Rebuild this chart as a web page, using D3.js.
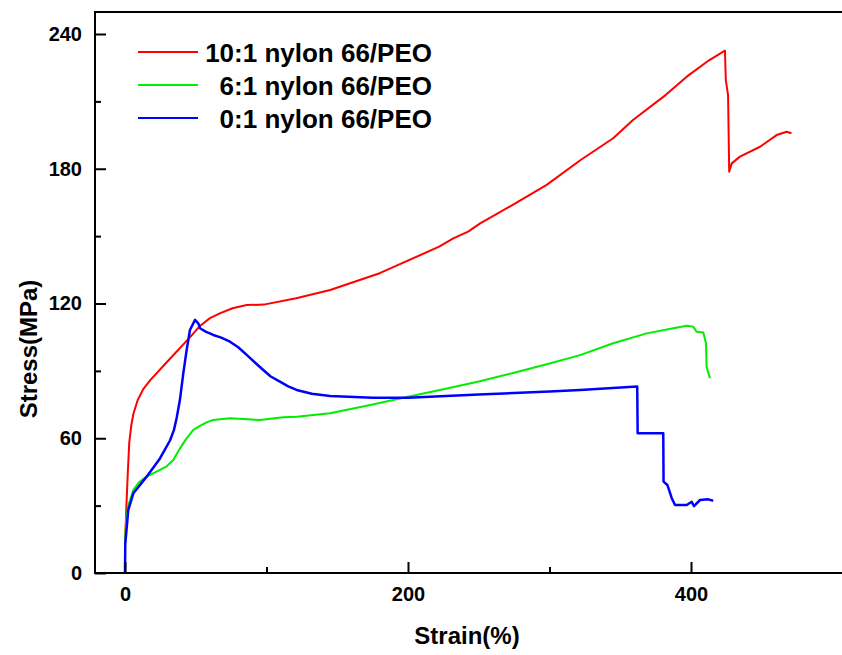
<!DOCTYPE html>
<html>
<head>
<meta charset="utf-8">
<script src="https://cdn.jsdelivr.net/npm/d3@7"></script>
<style>
  body { margin: 0; background: #fff; }
  text { font-family: "Liberation Sans", Arial, sans-serif; font-weight: bold; }
</style>
</head>
<body>
<div id="chart"></div>
<script>
// series data: [strain %, stress MPa]
const red = [[0,13],[1,30],[2,45],[3,58],[4.5,66],[6,71],[9,77],[13,82],[18,86],[29,93.5],[46,105],[53,110],
  [60,113.5],[67,115.6],[76,117.9],[86,119.3],[98,119.5],[121,122.3],[145,126],[180,133.5],[222,145.3],[232,149],
  [242.5,152],[251,155.7],[274,163.9],[298,172.8],[322,183.9],[345,193.6],[359,201.7],[382,212.8],
  [397,221],[413,228.4],[424,232.6],[424.6,219.5],[426.2,212.8],[427,178.7],[428.8,182.4],[434.6,185.4],
  [448.8,189.8],[460.5,195],[467.6,196.5],[471,195.8]];

const green = [[0,14],[1,25],[2.3,30],[5.9,37],[10,40.5],[15.3,42.9],[24.7,45.9],[29.5,47.5],[34.1,50.3],
  [38.9,55.5],[43,59.5],[48.3,63.7],[53,65.5],[58,67.2],[62.4,68.1],[74.2,68.9],[95.4,68.1],[111.9,69.3],[121.3,69.6],
  [144.9,71.1],[175,75],[200,78.5],[225,81.8],[250,85.3],[275,89.2],[300,93.3],[321.6,97],[345,102.3],
  [368.7,106.7],[387.5,109],[397,110.1],[401.6,109.7],[404,107.4],[408.7,107.1],[410.6,102.3],[411,91.9],
  [413.4,86.7]];

const blue = [[0,0],[0.2,13],[2.3,28],[5.9,35.5],[15.3,42.9],[24.7,51],[31.8,59],[34.5,63.5],[36.5,69],[38.8,77],
  [41.2,88.9],[43.5,99],[45.9,108.2],[49.5,112.7],[51.8,111.2],[53,109],[57,107.5],[62.4,106],[68,104.8],[74.2,103],
  [80,100.5],[86,97.1],[92,93.6],[97.7,90.4],[103,87.5],[109.5,85.2],[115,83.2],[121.3,81.5],[132,79.8],
  [144.9,78.8],[175,78],[200,78],[250,79.5],[300,80.8],[321.6,81.5],[362,83],[362.3,62.2],
  [380.4,62.2],[380.6,40.7],[383.3,39.2],[386.4,33.3],[388.7,30.3],[397,30.3],[400.5,31.7],[402.1,29.8],
  [406.4,32.5],[412.2,32.8],[415.7,32.2]];

const seriesNames = ["10:1 nylon 66/PEO", "6:1 nylon 66/PEO", "0:1 nylon 66/PEO"];
const seriesColors = ["#ff0000", "#00ee00", "#0000ff"];
const xTicks = [0, 200, 400], xMinor = [100, 300];
const yTicks = [0, 60, 120, 180, 240], yMinor = [30, 90, 150, 210];

const width = 842, height = 655;
const svg = d3.select("#chart").append("svg")
    .attr("width", width).attr("height", height);

// frame edges in pixels
const frame = {left: 95, top: 12, bottom: 573, right: 852};

const x = d3.scaleLinear().domain([0, 400]).range([125, 691]);
const y = d3.scaleLinear().domain([0, 240]).range([frame.bottom, 34]);

// curves
const line = d3.line().x(d => x(d[0])).y(d => y(d[1]));
[red, green, blue].forEach((s, i) => {
  svg.append("path")
      .datum(s)
      .attr("fill", "none")
      .attr("stroke", seriesColors[i])
      .attr("stroke-width", i == 2 ? 2.5 : 2)
      .attr("stroke-linejoin", "round")
      .attr("d", line);
});

// frame
svg.append("rect")
    .attr("x", frame.left).attr("y", frame.top)
    .attr("width", frame.right - frame.left).attr("height", frame.bottom - frame.top)
    .attr("fill", "none").attr("stroke", "#000").attr("stroke-width", 2);

// axes, ticks pointing inward
svg.append("g").attr("transform", "translate(" + frame.left + ",0)")
    .call(d3.axisLeft(y).tickValues(yTicks).tickSize(-11).tickPadding(13));
svg.append("g").attr("transform", "translate(" + frame.left + ",0)")
    .call(d3.axisLeft(y).tickValues(yMinor).tickSize(-6).tickFormat(""));
svg.append("g").attr("transform", "translate(0," + frame.bottom + ")")
    .call(d3.axisBottom(x).tickValues(xTicks).tickSize(-11).tickPadding(14));
svg.append("g").attr("transform", "translate(0," + frame.bottom + ")")
    .call(d3.axisBottom(x).tickValues(xMinor).tickSize(-6).tickFormat(""));

svg.selectAll(".domain").remove();
svg.selectAll(".tick line").attr("stroke", "#000").attr("stroke-width", 2);
svg.selectAll(".tick text")
    .style("font-size", "20px")
    .style("font-family", "'Liberation Sans', Arial, sans-serif")
    .style("font-weight", "bold")
    .attr("fill", "#000");

// axis titles
svg.append("text")
    .attr("x", 467).attr("y", 644)
    .attr("text-anchor", "middle")
    .style("font-size", "24px")
    .text("Strain(%)");

svg.append("text")
    .attr("transform", "translate(37,349) rotate(-90)")
    .attr("text-anchor", "middle")
    .style("font-size", "24px")
    .text("Stress(MPa)");

// legend
seriesNames.forEach((name, i) => {
  const ly = 52 + i * 33;
  svg.append("line")
      .attr("x1", 138).attr("x2", 198)
      .attr("y1", ly).attr("y2", ly)
      .attr("stroke", seriesColors[i]).attr("stroke-width", 2);
  svg.append("text")
      .attr("x", 432).attr("y", ly + 10)
      .attr("text-anchor", "end")
      .style("font-size", "26px")
      .text(name);
});
</script>
</body>
</html>
